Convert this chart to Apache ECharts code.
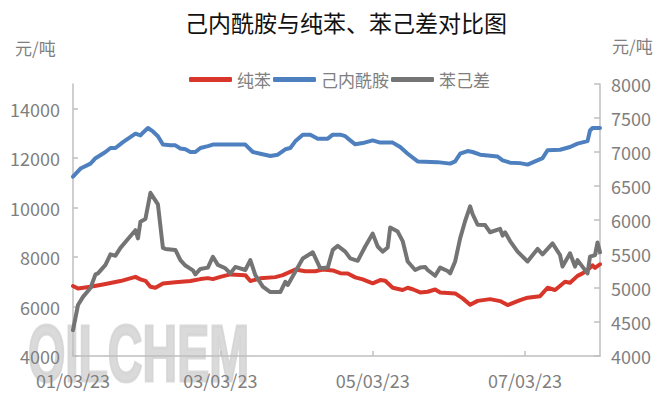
<!DOCTYPE html>
<html>
<head>
<meta charset="utf-8">
<script src="https://cdn.jsdelivr.net/npm/echarts@6/dist/echarts.min.js"></script>
<style>html,body{margin:0;padding:0;background:#fff}#c{width:662px;height:404px}</style>
</head>
<body>
<div id="c"></div>
<script>
// ---- data ----
const titleText = '己内酰胺与纯苯、苯己差对比图';
const unitText = '元/吨';
const seriesNames = ['纯苯', '己内酰胺', '苯己差'];
const startDate = '2023-01-03';
const endDate = '2023-08-02';
const tickLabels = ['01/03/23', '03/03/23', '05/03/23', '07/03/23'];
const leftTicks = [4000, 6000, 8000, 10000, 12000, 14000];

// 纯苯 (left axis)
const benzene = [
  ['01/03/23',6830],['01/05/23',6730],['01/10/23',6800],['01/15/23',6890],['01/22/23',7030],
  ['01/28/23',7200],['01/30/23',7100],['02/01/23',7040],['02/03/23',6800],['02/05/23',6760],
  ['02/08/23',6930],['02/13/23',6980],['02/19/23',7030],['02/23/23',7110],['02/26/23',7150],
  ['02/28/23',7110],['03/03/23',7200],['03/07/23',7300],['03/13/23',7270],['03/15/23',7030],
  ['03/19/23',7140],['03/25/23',7190],['03/28/23',7270],['04/02/23',7500],['04/06/23',7430],
  ['04/10/23',7430],['04/13/23',7500],['04/17/23',7460],['04/20/23',7350],['04/23/23',7340],
  ['04/26/23',7180],['04/29/23',7100],['05/03/23',6940],['05/06/23',7070],['05/08/23',7040],
  ['05/11/23',6760],['05/15/23',6670],['05/17/23',6760],['05/19/23',6700],['05/22/23',6570],
  ['05/25/23',6600],['05/28/23',6690],['05/30/23',6570],['06/05/23',6530],['06/08/23',6330],
  ['06/11/23',6070],['06/14/23',6230],['06/19/23',6300],['06/23/23',6220],['06/26/23',6060],
  ['07/01/23',6260],['07/04/23',6360],['07/09/23',6420],['07/12/23',6760],['07/15/23',6670],
  ['07/19/23',7000],['07/21/23',6960],['07/24/23',7240],['07/26/23',7340],['07/28/23',7470],
  ['07/30/23',7670],['07/31/23',7560],['08/02/23',7710]
];

// 己内酰胺 (left axis)
const caprolactam = [
  ['01/03/23',11250],['01/06/23',11580],['01/10/23',11780],['01/12/23',12000],['01/16/23',12250],
  ['01/18/23',12410],['01/20/23',12410],['01/23/23',12650],['01/28/23',12990],['01/30/23',12920],
  ['01/31/23',13030],['02/02/23',13220],['02/04/23',13080],['02/06/23',12890],['02/08/23',12550],
  ['02/11/23',12520],['02/13/23',12520],['02/15/23',12390],['02/17/23',12360],['02/19/23',12250],
  ['02/21/23',12250],['02/23/23',12410],['02/26/23',12490],['02/28/23',12550],['03/05/23',12550],
  ['03/13/23',12550],['03/16/23',12250],['03/19/23',12180],['03/23/23',12090],['03/26/23',12140],
  ['03/29/23',12360],['03/31/23',12410],['04/02/23',12680],['04/05/23',12950],['04/08/23',12950],
  ['04/11/23',12790],['04/15/23',12790],['04/17/23',12950],['04/20/23',12950],['04/22/23',12890],
  ['04/24/23',12720],['04/26/23',12560],['04/29/23',12610],['05/03/23',12720],['05/06/23',12630],
  ['05/11/23',12630],['05/14/23',12450],['05/17/23',12180],['05/21/23',11870],['05/29/23',11840],
  ['06/03/23',11780],['06/05/23',11870],['06/07/23',12180],['06/10/23',12290],['06/12/23',12250],
  ['06/15/23',12140],['06/22/23',12070],['06/24/23',11910],['06/27/23',11820],['07/01/23',11800],
  ['07/04/23',11740],['07/07/23',11870],['07/10/23',12000],['07/12/23',12320],['07/17/23',12340],
  ['07/21/23',12450],['07/24/23',12590],['07/28/23',12690],['07/29/23',13120],['07/30/23',13220],
  ['08/02/23',13220]
];

// 苯己差 (right axis)
const spread = [
  ['01/03/23',4380],['01/05/23',4750],['01/07/23',4870],['01/10/23',5000],['01/12/23',5200],
  ['01/13/23',5215],['01/16/23',5340],['01/18/23',5495],['01/20/23',5475],['01/22/23',5590],
  ['01/25/23',5720],['01/28/23',5850],['01/29/23',5730],['01/30/23',5975],['02/01/23',6015],
  ['02/03/23',6400],['02/06/23',6230],['02/08/23',5590],['02/09/23',5575],['02/13/23',5560],
  ['02/15/23',5410],['02/17/23',5330],['02/20/23',5260],['02/21/23',5200],['02/23/23',5280],
  ['02/26/23',5300],['02/28/23',5460],['03/02/23',5340],['03/05/23',5290],['03/07/23',5215],
  ['03/09/23',5310],['03/13/23',5265],['03/15/23',5410],['03/17/23',5190],['03/20/23',5020],
  ['03/23/23',4940],['03/27/23',4940],['03/29/23',5090],['03/30/23',5045],['04/02/23',5240],
  ['04/05/23',5435],['04/09/23',5525],['04/12/23',5290],['04/15/23',5300],['04/17/23',5560],
  ['04/19/23',5620],['04/22/23',5535],['04/24/23',5435],['04/27/23',5400],['04/30/23',5610],
  ['05/03/23',5800],['05/05/23',5610],['05/07/23',5535],['05/09/23',5595],['05/10/23',5890],
  ['05/13/23',5830],['05/15/23',5690],['05/17/23',5390],['05/20/23',5265],['05/22/23',5300],
  ['05/24/23',5310],['05/25/23',5265],['05/28/23',5180],['05/30/23',5300],['06/02/23',5250],
  ['06/03/23',5215],['06/05/23',5390],['06/07/23',5730],['06/09/23',5985],['06/11/23',6200],
  ['06/12/23',6085],['06/14/23',5930],['06/17/23',5925],['06/19/23',5820],['06/23/23',5870],
  ['06/24/23',5770],['06/25/23',5820],['06/27/23',5690],['06/30/23',5535],['07/04/23',5390],
  ['07/08/23',5575],['07/10/23',5495],['07/14/23',5655],['07/17/23',5485],['07/18/23',5315],
  ['07/21/23',5510],['07/23/23',5315],['07/24/23',5410],['07/28/23',5215],['07/29/23',5460],
  ['07/31/23',5485],['08/01/23',5670],['08/02/23',5525]
];

// ---- build daily category axis ----
function pad(n){return (n<10?'0':'')+n;}
const categories = [];
(function(){
  const d = new Date(startDate + 'T00:00:00Z');
  const e = new Date(endDate + 'T00:00:00Z');
  while (d <= e) {
    categories.push(pad(d.getUTCMonth()+1) + '/' + pad(d.getUTCDate()) + '/' + String(d.getUTCFullYear()).slice(2));
    d.setUTCDate(d.getUTCDate()+1);
  }
})();
function toSeries(pairs){ return pairs.map(p => [categories.indexOf(p[0]), p[1]]); }
const isTick = (i, v) => tickLabels.indexOf(categories[i]) >= 0;
const plain = v => String(v);

const FONT = '"Noto Sans CJK SC", "Noto Sans", sans-serif';
const GRAY = '#7f7f7f';
const AXIS = '#bfbfbf';

const chart = echarts.init(document.getElementById('c'), null, {renderer: 'svg'});
chart.setOption({
  backgroundColor: '#ffffff',
  animation: false,
  textStyle: {fontFamily: FONT},
  title: {
    text: titleText, left: 180, top: 5,
    textStyle: {fontFamily: FONT, fontSize: 23, fontWeight: 'normal', color: '#111'}
  },
  legend: {
    left: 184, top: 66,
    itemWidth: 43, itemHeight: 5, itemGap: 2,
    icon: 'roundRect',
    textStyle: {fontFamily: FONT, fontSize: 17, color: GRAY},
    data: seriesNames
  },
  graphic: [
    {type: 'text', left: 15, top: 39, style: {text: unitText, font: '17px ' + FONT, fill: GRAY}},
    {type: 'text', left: 612, top: 37, style: {text: unitText, font: '17px ' + FONT, fill: GRAY}},
    {type: 'text', z: -10, left: 27, top: 312, scaleX: 0.6,
     style: {text: 'OILCHEM', font: 'bold 80px "Liberation Sans", Arial, sans-serif',
       fill: '#d4d4d4', stroke: '#d4d4d4', lineWidth: 3, opacity: 0.85}}
  ],
  grid: {left: 73, right: 62, top: 84, bottom: 48, containLabel: false},
  xAxis: {
    type: 'category', data: categories, boundaryGap: false,
    axisLine: {lineStyle: {color: AXIS, width: 1.5}},
    axisTick: {show: true, inside: true, length: 5, interval: isTick, lineStyle: {color: AXIS, width: 1.5}},
    axisLabel: {interval: isTick, margin: 15, fontSize: 18, color: GRAY, fontFamily: FONT},
    splitLine: {show: false}
  },
  yAxis: [
    {
      type: 'value', min: 4000, max: 15000, interval: 2000, position: 'left',
      axisLine: {show: true, lineStyle: {color: AXIS, width: 1.5}},
      axisTick: {show: true, inside: true, length: 5, customValues: leftTicks, lineStyle: {color: AXIS, width: 1.5}},
      axisLabel: {fontSize: 18, color: GRAY, margin: 13, fontFamily: FONT, customValues: leftTicks, formatter: plain},
      splitLine: {show: false}
    },
    {
      type: 'value', min: 4000, max: 8000, interval: 500, position: 'right',
      axisLine: {show: true, lineStyle: {color: AXIS, width: 1.5}},
      axisTick: {show: true, inside: true, length: 6, lineStyle: {color: AXIS, width: 1.5}},
      axisLabel: {fontSize: 18, color: GRAY, margin: 11, fontFamily: FONT, formatter: plain},
      splitLine: {show: false}
    }
  ],
  series: [
    {name: seriesNames[0], type: 'line', yAxisIndex: 0, data: toSeries(benzene), showSymbol: false,
     color: '#d8362b', lineStyle: {width: 4, color: '#d8362b', cap: 'round', join: 'round'}},
    {name: seriesNames[1], type: 'line', yAxisIndex: 0, data: toSeries(caprolactam), showSymbol: false,
     color: '#4e80bf', lineStyle: {width: 4, color: '#4e80bf', cap: 'round', join: 'round'}},
    {name: seriesNames[2], type: 'line', yAxisIndex: 1, data: toSeries(spread), showSymbol: false,
     color: '#747474', lineStyle: {width: 4, color: '#747474', cap: 'round', join: 'round'}}
  ]
});
</script>
</body>
</html>
